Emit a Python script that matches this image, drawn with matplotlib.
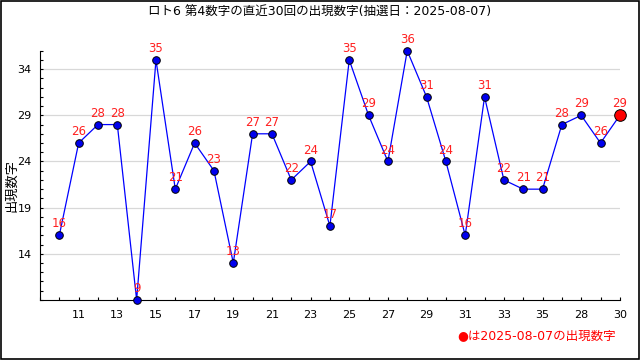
import matplotlib
matplotlib.use("Agg")
import matplotlib.pyplot as plt
from matplotlib.ticker import MultipleLocator, FixedLocator

plt.rcParams['font.family'] = ['DejaVu Sans', 'Noto Sans CJK JP']

# draw index 1..30 and the 4th number drawn
draws = list(range(1, 31))
numbers = [16, 26, 28, 28, 9, 35, 21, 26, 23, 13, 27, 27, 22, 24, 17,
           35, 29, 24, 36, 31, 24, 16, 31, 22, 21, 21, 28, 29, 26, 29]
tick_pos = [2, 4, 6, 8, 10, 12, 14, 16, 18, 20, 22, 24, 26, 28, 30]
tick_labels = ['11', '13', '15', '17', '19', '21', '23', '25', '27', '29',
               '31', '33', '35', '28', '30']
latest_date = '2025-08-07'

fig = plt.figure(figsize=(6.4, 3.6), dpi=100)
ax = fig.add_axes([0.0625, 0.167, 0.906, 0.692])

ax.plot(draws, numbers, color='#0000ff', lw=0.9, zorder=2)
ax.scatter(draws[:-1], numbers[:-1], s=30, color='#0000ee', edgecolor='black',
           linewidth=0.7, zorder=3, clip_on=False)
ax.scatter(draws[-1:], numbers[-1:], s=70, color='#ff0000', edgecolor='black',
           linewidth=0.7, zorder=4, clip_on=False)

for x, y in zip(draws, numbers):
    ax.annotate(str(y), (x, y), xytext=(0, 3.5), textcoords='offset points',
                ha='center', va='bottom', color='#ff2020', fontsize=8.5,
                zorder=5, annotation_clip=False)

ax.set_xlim(0, 30)
ax.set_ylim(9, 36)
ax.xaxis.set_major_locator(FixedLocator(tick_pos))
ax.set_xticklabels(tick_labels)
ax.xaxis.set_minor_locator(MultipleLocator(1))
ax.yaxis.set_major_locator(FixedLocator([14, 19, 24, 29, 34]))
ax.yaxis.set_minor_locator(MultipleLocator(1))
ax.tick_params(axis='both', which='both', direction='in', length=2.5, width=0.8)
ax.tick_params(axis='both', which='major', labelsize=8)
ax.tick_params(axis='y', which='major', pad=6)
ax.tick_params(axis='x', which='major', pad=7)
ax.grid(axis='y', which='major', color='#d8d8d8', lw=0.9)
ax.set_axisbelow(True)
for s in ['top', 'right']:
    ax.spines[s].set_visible(False)

fig.text(12 / 640, 0.485, '出現数字', rotation=90, ha='center', va='center',
         fontsize=9.5)

fig.text(0.5, 0.965, f'ロト6 第4数字の直近30回の出現数字(抽選日：{latest_date})',
         ha='center', va='center', fontsize=9)
fig.text(0.962, 0.068, f'●は{latest_date}の出現数字', ha='right', va='center',
         color='#ff0000', fontsize=9)

fig.add_artist(plt.Rectangle((0.001, 0.002), 0.997, 0.995, transform=fig.transFigure,
                             fill=False, edgecolor='black', lw=1.2))

fig.savefig('out.png', dpi=100)
